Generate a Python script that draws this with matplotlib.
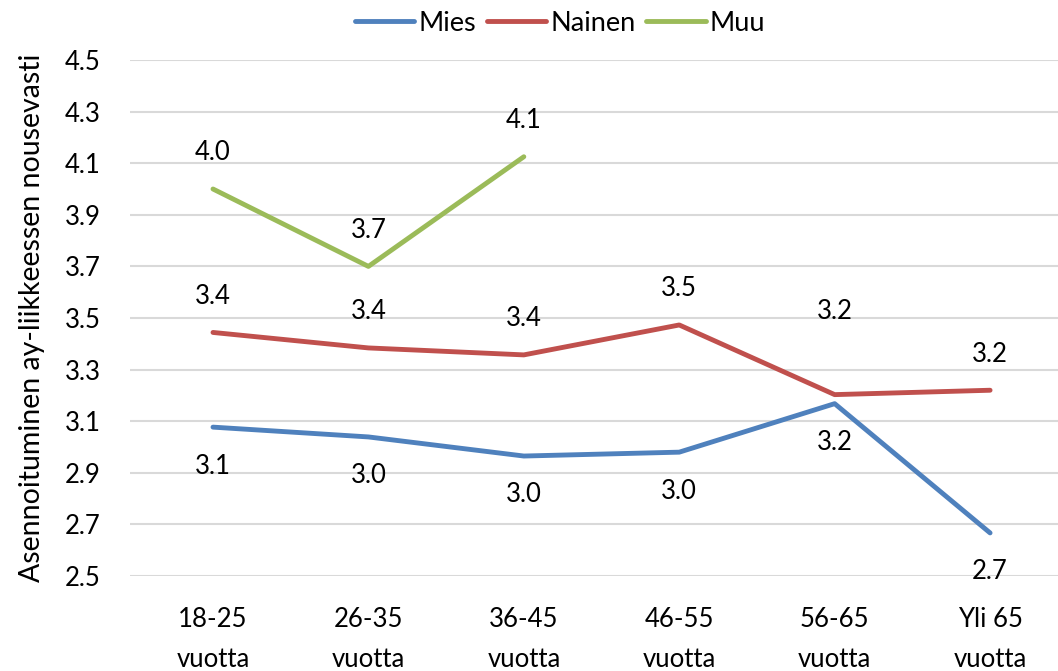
import matplotlib.pyplot as plt
import numpy as np

plt.rcParams['font.family'] = ['Lato', 'DejaVu Sans']

categories = ['18-25\nvuotta', '26-35\nvuotta', '36-45\nvuotta',
              '46-55\nvuotta', '56-65\nvuotta', 'Yli 65\nvuotta']
mies = [3.077, 3.039, 2.965, 2.980, 3.168, 2.667]
nainen = [3.444, 3.384, 3.357, 3.473, 3.203, 3.220]
muu = [4.000, 3.700, 4.125]

colors = {'Mies': '#4F81BD', 'Nainen': '#C0504D', 'Muu': '#9BBB59'}
FS = 18.5

fig = plt.figure(figsize=(10.58, 6.71), dpi=100)
W, H = 1058, 671
ax = fig.add_axes([130 / W, 1 - 576 / H, (1058 - 130) / W, (576 - 60) / H])

x = np.arange(len(categories))
ax.plot(x, mies, color=colors['Mies'], lw=3.5, solid_capstyle='round', label='Mies')
ax.plot(x, nainen, color=colors['Nainen'], lw=3.5, solid_capstyle='round', label='Nainen')
ax.plot(x[:len(muu)], muu, color=colors['Muu'], lw=3.5, solid_capstyle='round', label='Muu')

# data labels: Mies below, others above; Nainen 56-65 pushed up to clear the crossing
for xi, v in zip(x, mies):
    ax.annotate(f'{v:.1f}', (xi, v), xytext=(0, -28), textcoords='offset points',
                ha='center', va='center', fontsize=FS)
for xi, v in zip(x, nainen):
    dy = 60 if xi == 4 else 26
    ax.annotate(f'{v:.1f}', (xi, v), xytext=(0, dy), textcoords='offset points',
                ha='center', va='center', fontsize=FS)
for xi, v in zip(x, muu):
    ax.annotate(f'{v:.1f}', (xi, v), xytext=(0, 26), textcoords='offset points',
                ha='center', va='center', fontsize=FS)

ax.set_xlim(-0.534, 5.437)
ax.set_ylim(2.5, 4.5)
yt = np.arange(2.5, 4.51, 0.2)
ax.set_yticks(yt)
ax.set_yticklabels([f'{t:.1f}' for t in yt])
ax.set_xticks(x)
ax.set_xticklabels(categories, linespacing=1.75)
ax.tick_params(axis='both', length=0, labelsize=FS)
ax.tick_params(axis='y', pad=21)
ax.tick_params(axis='x', pad=22)
ax.grid(axis='y', color='#D9D9D9', lw=1.5)
ax.set_axisbelow(True)
for s in ax.spines.values():
    s.set_visible(False)

ax.set_ylabel('Asennoituminen ay-liikkeessen nousevasti', fontsize=20.5, labelpad=14)

fig.legend(loc='upper center', bbox_to_anchor=(560 / W, 1.02), ncol=3, frameon=False,
           fontsize=19.5, handlelength=2.2, handletextpad=0.15, columnspacing=0.4)

fig.savefig('out.png', dpi=100)
